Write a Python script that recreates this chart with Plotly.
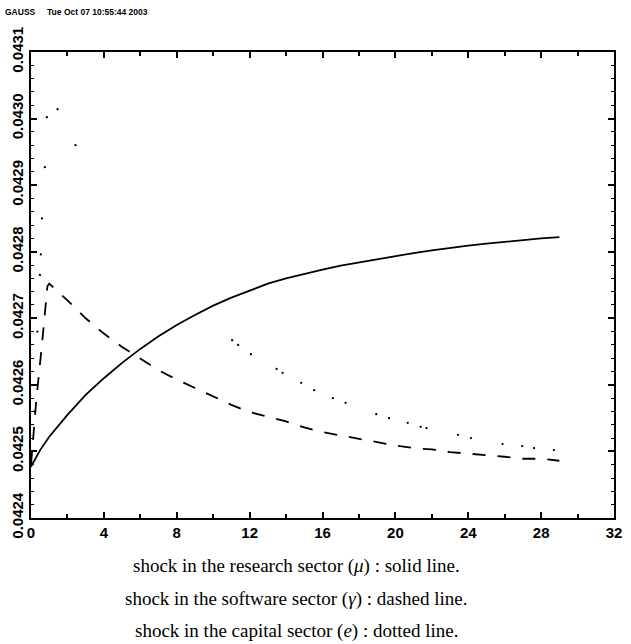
import plotly.graph_objects as go

# ---- data ----
t_solid = [0, 0.5, 1, 2, 3, 4, 5, 6, 7, 8, 9, 10, 11, 12, 13, 14, 15, 16, 17, 18,
           19, 20, 21, 22, 23, 24, 25, 26, 27, 28, 29]
y_solid = [0.042477, 0.042502, 0.042522, 0.042555, 0.042585, 0.042610, 0.042633,
           0.042654, 0.042673, 0.042690, 0.042705, 0.042719, 0.042731, 0.042742,
           0.042752, 0.042760, 0.042767, 0.042773, 0.042779, 0.042784, 0.042789,
           0.042794, 0.042798, 0.042802, 0.042806, 0.042809, 0.042812, 0.042815,
           0.042817, 0.042820, 0.042822]

t_dashed = [0, 0.3, 0.6, 0.9, 1, 2, 3, 4, 5, 6, 7, 8, 9, 10, 11, 12, 13, 14, 15, 16,
            17, 18, 19, 20, 21, 22, 23, 24, 25, 26, 27, 28, 29]
y_dashed = [0.042480, 0.042580, 0.042660, 0.042748, 0.042752, 0.042727, 0.042700,
            0.042677, 0.042657, 0.042640, 0.042622, 0.042608, 0.042595, 0.042582,
            0.042570, 0.042559, 0.042552, 0.042545, 0.042536, 0.042529, 0.042524,
            0.042519, 0.042513, 0.042509, 0.042505, 0.042503, 0.042499, 0.042497,
            0.042495, 0.042492, 0.042489, 0.042489, 0.042486]

t_dotted = [0.0, 0.2, 0.35, 0.49, 0.54, 0.60, 0.76, 0.87, 1.46, 2.44,
            11.04, 11.37, 12.07, 13.48, 13.81, 14.83, 15.54, 16.57, 17.27, 18.95,
            19.65, 20.68, 21.39, 21.71, 23.44, 24.15, 25.88, 26.96, 27.61, 28.70]
y_dotted = [0.042480, 0.042560, 0.042680, 0.042765, 0.042796, 0.042850, 0.042927,
            0.043002, 0.043014, 0.042960,
            0.042667, 0.042660, 0.042646, 0.042624, 0.042618, 0.042603, 0.042592,
            0.042580, 0.042573, 0.042556, 0.042550, 0.042543, 0.042537, 0.042535,
            0.042525, 0.042520, 0.042511, 0.042508, 0.042505, 0.042502]

x_ticks = [0, 4, 8, 12, 16, 20, 24, 28, 32]
y_ticks = [0.0424, 0.0425, 0.0426, 0.0427, 0.0428, 0.0429, 0.0430, 0.0431]
y_tick_text = ["0.0424", "0.0425", "0.0426", "0.0427", "0.0428", "0.0429", "0.0430", "0.0431"]

header = "GAUSS&nbsp;&nbsp;&nbsp;&nbsp;&nbsp;Tue Oct 07 10:55:44 2003"
captions = [
    "shock in the research sector (<i>μ</i>) : solid line.",
    "shock in the software sector (<i>γ</i>) : dashed line.",
    "shock in the capital sector (<i>e</i>) : dotted line.",
]

fig = go.Figure()
fig.add_trace(go.Scatter(x=t_solid, y=y_solid, mode="lines",
                         line=dict(color="black", width=1.8), showlegend=False))
fig.add_trace(go.Scatter(x=t_dashed, y=y_dashed, mode="lines",
                         line=dict(color="black", width=1.8, dash="13px,12px"), showlegend=False))
fig.add_trace(go.Scatter(x=t_dotted, y=y_dotted, mode="markers",
                         marker=dict(color="black", size=2.3), showlegend=False))

tickfont = dict(family="Liberation Sans", size=15, color="black", weight="bold")
fig.update_xaxes(range=[0, 32], tickvals=x_ticks, ticktext=[str(v) for v in x_ticks],
                 showgrid=False, zeroline=False, showline=True, linecolor="black",
                 linewidth=2, mirror="allticks", ticks="inside", ticklen=6, tickwidth=2,
                 tickcolor="black", tickfont=tickfont,
                 minor=dict(dtick=2, ticks="inside", ticklen=4, tickwidth=1.5,
                            tickcolor="black", showgrid=False))
fig.update_yaxes(range=[0.0424, 0.0431], tickvals=y_ticks, ticktext=y_tick_text,
                 tickangle=-90, showgrid=False, zeroline=False, showline=True,
                 linecolor="black", linewidth=2, mirror="allticks", ticks="inside",
                 ticklen=6, tickwidth=2, tickcolor="black", tickfont=tickfont,
                 minor=dict(dtick=0.00002, ticks="inside", ticklen=3, tickwidth=1,
                            tickcolor="black", showgrid=False))

W, H = 631, 644
L, R, T, B = 31, 9, 52, 126
pw, ph = W - L - R, H - T - B

def px(xp):
    return (xp - L) / pw

def py(yp):
    return (H - B - yp) / ph

fig.add_annotation(text=header, xref="paper", yref="paper", x=px(3), y=py(12),
                   xanchor="left", yanchor="middle", showarrow=False,
                   font=dict(family="Liberation Sans", size=8.5, color="black", weight="bold"))
for cap, yp in zip(captions, [566, 599, 631]):
    fig.add_annotation(text=cap, xref="paper", yref="paper", x=px(300), y=py(yp),
                       xanchor="center", yanchor="middle", showarrow=False,
                       font=dict(family="Liberation Serif", size=19, color="black"))

fig.update_layout(width=W, height=H, margin=dict(l=L, r=R, t=T, b=B),
                  plot_bgcolor="white", paper_bgcolor="white")
fig.write_html("out.html", config={"displayModeBar": False},
               post_script="document.body.style.margin='0';document.body.style.overflow='hidden';")
